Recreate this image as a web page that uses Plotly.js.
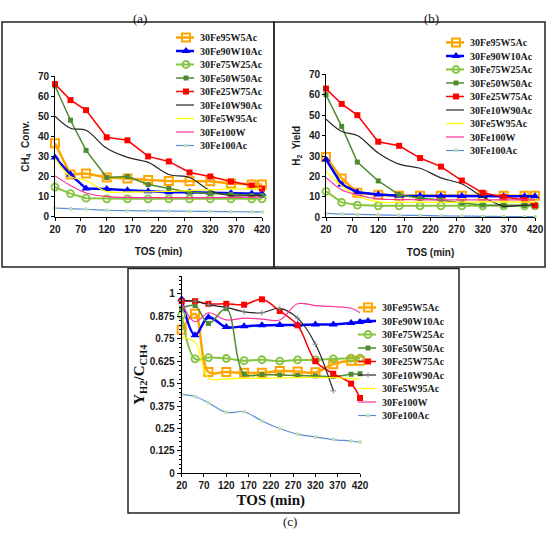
<!DOCTYPE html>
<html><head><meta charset="utf-8">
<script src="https://cdn.plot.ly/plotly-3.0.1.min.js"></script>
<style>html,body{margin:0;padding:0;background:#fff}#chart{width:550px;height:546px}</style>
</head><body><div id="chart"></div>
<script>
// ---------- data ----------
const tos = [20, 50, 80, 120, 160, 200, 240, 280, 320, 360, 400, 420];
const seriesNames = ['30Fe95W5Ac','30Fe90W10Ac','30Fe75W25Ac','30Fe50W50Ac','30Fe25W75Ac','30Fe10W90Ac','30Fe5W95Ac','30Fe100W','30Fe100Ac'];
const xTickVals = [20, 70, 120, 170, 220, 270, 320, 370, 420];
const cTickVals = [0, 0.125, 0.25, 0.375, 0.5, 0.625, 0.75, 0.875, 1];
const cTickText = ['0','0.125','0.25','0.375','0.5','0.625','0.75','0.875','1'];

// (a) CH4 conversion
const convFe95W5Ac  = [36.5, 21, 21.5, 19.5, 19, 18.2, 17.8, 17.6, 17.6, 16.5, 16, 16];
const convFe90W10Ac = [29.5, 21, 14, 13.8, 13.2, 12.6, 12.2, 12.2, 12, 11.8, 11.6, 11.4];
const convFe75W25Ac = [14.7, 11.5, 9.2, 8.9, 8.9, 8.9, 8.9, 8.9, 8.9, 8.9, 8.9, 8.9];
const convFe50W50Ac = [65, 48, 33, 19.5, 20, 16, 14, 12.2, 11.5, 11, 10.5, 10.5];
const convFe25W75Ac = [66, 58, 53, 39.5, 38, 30, 27.5, 22, 20, 17.5, 15.5, 14];
const convFe10W90Ac = [50, 44, 43, 34, 29.5, 27, 21, 19.5, 13, 10.5, 10.5, 10.5];
const convFe5W95Ac  = [29, 20, 18, 12.5, 12.3, 12.4, 12.6, 13, 13.4, 13.8, 14, 14.3];
const convFe100W    = [20.3, 15.5, 11.8, 10, 9.6, 9.5, 9.5, 9.5, 9.5, 9.6, 9.7, 9.8];
const convFe100Ac   = [4.3, 4, 3.7, 3.2, 3, 2.9, 2.8, 2.7, 2.6, 2.5, 2.4, 2.4];

// (b) H2 yield
const yieldFe95W5Ac  = [29.5, 19, 12, 11, 10.5, 10.5, 10.5, 10.5, 10.5, 10.5, 10.5, 10.5];
const yieldFe90W10Ac = [28.3, 16, 12.3, 11.2, 10.6, 10.5, 10.4, 10.4, 10.4, 10.3, 10.3, 10.3];
const yieldFe75W25Ac = [12.7, 7.3, 6, 5.6, 5.6, 5.6, 5.6, 5.6, 5.6, 5.6, 5.6, 5.6];
const yieldFe50W50Ac = [60, 44.5, 27, 17.8, 11, 9.3, 8.5, 7, 6, 5.8, 5.8, 5.8];
const yieldFe25W75Ac = [63, 55.5, 50, 37, 35, 29, 24.8, 18, 12, 10, 8.5, 5.8];
const yieldFe10W90Ac = [48, 42, 40, 31.5, 26, 24, 19.3, 16.3, 10, 5.5, 6, 6];
const yieldFe5W95Ac  = [22.5, 15.5, 10.5, 7.5, 7.3, 7.3, 7.3, 7.4, 7.5, 7.5, 7.5, 7.5];
const yieldFe100W    = [19.5, 13.5, 11, 9, 8.7, 8.6, 8.5, 8.5, 8.5, 8.5, 8.5, 8.5];
const yieldFe100Ac   = [1.9, 1.6, 1.4, 1.2, 1.0, 0.9, 0.7, 0.6, 0.5, 0.4, 0.3, 0.3];

// (c) Y_H2 / C_CH4
const ratioFe95W5Ac  = [0.8, 0.89, 0.565, 0.565, 0.56, 0.56, 0.57, 0.567, 0.563, 0.608, 0.627, 0.627];
const ratioFe90W10Ac = [0.97, 0.77, 0.87, 0.815, 0.82, 0.825, 0.827, 0.827, 0.83, 0.83, 0.838, 0.843];
const ratioFe75W25Ac = [0.882, 0.638, 0.645, 0.64, 0.628, 0.633, 0.625, 0.632, 0.632, 0.638, 0.642, 0.642];
const ratioFe50W50Ac = [0.92, 0.935, 0.835, 0.918, 0.553, 0.55, 0.548, 0.545, 0.543, 0.54, 0.552, 0.555];
const ratioFe25W75Ac = [0.96, 0.96, 0.945, 0.945, 0.94, 0.97, 0.905, 0.825, 0.625, 0.555, 0.5, 0.42];
const ratioFe10W90Ac = [0.962, 0.96, 0.94, 0.925, 0.9, 0.895, 0.92, 0.865, 0.72, 0.46, null, null];
const ratioFe5W95Ac  = [0.76, 0.73, 0.53, 0.527, 0.53, 0.53, 0.532, 0.533, 0.535, 0.533, 0.528, 0.525];
const ratioFe100W    = [0.95, 0.845, 0.895, 0.855, 0.865, 0.86, 0.855, 0.945, 0.935, 0.93, 0.92, 0.895];
const ratioFe100Ac   = [0.44, 0.428, 0.393, 0.34, 0.343, 0.292, 0.25, 0.218, 0.203, 0.188, 0.18, 0.174];

const panelA = [convFe95W5Ac, convFe90W10Ac, convFe75W25Ac, convFe50W50Ac, convFe25W75Ac, convFe10W90Ac, convFe5W95Ac, convFe100W, convFe100Ac];
const panelB = [yieldFe95W5Ac, yieldFe90W10Ac, yieldFe75W25Ac, yieldFe50W50Ac, yieldFe25W75Ac, yieldFe10W90Ac, yieldFe5W95Ac, yieldFe100W, yieldFe100Ac];
const panelC = [ratioFe95W5Ac, ratioFe90W10Ac, ratioFe75W25Ac, ratioFe50W50Ac, ratioFe25W75Ac, ratioFe10W90Ac, ratioFe5W95Ac, ratioFe100W, ratioFe100Ac];

// ---------- styles ----------
const styles = [
  {color:'#FFA500', width:2.5, symbol:'square-open', size:8, mlw:2, mode:'lines+markers', smooth:false},
  {color:'#0000FF', width:2.5, symbol:'triangle-up', size:8, mlw:0, mode:'lines+markers', smooth:false},
  {color:'#86C440', width:2, symbol:'circle-open', size:7, mlw:1.8, mode:'lines+markers', smooth:false},
  {color:'#4E8B30', width:1.5, symbol:'square', size:5, mlw:0, mode:'lines+markers', smooth:false},
  {color:'#FF0000', width:1.5, symbol:'square', size:6, mlw:0, mode:'lines+markers', smooth:false},
  {color:'#262626', width:1.2, symbol:'line-ew-open', size:4, mlw:1, mode:'lines', smooth:true},
  {color:'#FFFF00', width:1.3, symbol:'circle', size:3, mlw:0, mode:'lines', smooth:true},
  {color:'#FF3399', width:1.2, symbol:'circle', size:3, mlw:0, mode:'lines', smooth:true},
  {color:'#5B8ED6', width:1.2, symbol:'circle', size:4, mlw:0, mode:'lines+markers', smooth:true, mcolor:'#C5DBB5'}
];

const traces = [];
function addPanel(data, xa, ya, legendId, allSmooth) {
  data.forEach((ys, i) => {
    const s = styles[i];
    traces.push({
      type:'scatter', x: tos, y: ys, name: seriesNames[i],
      xaxis: xa, yaxis: ya, legend: legendId,
      mode: s.mode, cliponaxis:false, connectgaps:false,
      line: {color: s.color, width: s.width, shape: (allSmooth || s.smooth) ? 'spline' : 'linear', smoothing: 1},
      marker: {symbol: s.symbol, size: s.size, color: s.mcolor || s.color, line: {color: s.mcolor || s.color, width: s.mlw}},
      hoverinfo:'x+y+name'
    });
  });
}
addPanel(panelA, 'x', 'y', 'legend', false);
addPanel(panelB, 'x2', 'y2', 'legend2', false);
addPanel(panelC, 'x3', 'y3', 'legend3', true);
// black series in (c) ends with a small marker
traces[9*2+5].mode = 'lines+markers';
traces[9*2+5].marker = {symbol:'cross-thin-open', size:4, color:'#888', line:{color:'#888', width:1}};

// ---------- layout ----------
const W = 550, H = 546;
const px = v => v / W;
const py = v => 1 - v / H;
const sansBold = {family:'Liberation Sans, Arial, sans-serif', size:10, weight:'bold', color:'#1a1a1a'};
const serifBold = {family:'Liberation Serif, Times New Roman, serif', size:10, weight:'bold', color:'#1a1a1a'};

function xAxis(domain, anchor) {
  return {domain, anchor, range:[20,420], tickmode:'array', tickvals:xTickVals,
    showline:true, linecolor:'#000', linewidth:1, ticks:'outside', ticklen:3, tickcolor:'#000',
    showgrid:false, zeroline:false, tickfont:sansBold, fixedrange:true};
}
function yAxisAB(domain, anchor, titleHtml) {
  return {domain, anchor, range:[0,70], tickmode:'linear', tick0:0, dtick:10,
    showline:true, linecolor:'#000', linewidth:1, ticks:'outside', ticklen:3, tickcolor:'#000',
    showgrid:false, zeroline:false, tickfont:sansBold, fixedrange:true,
    title:{text:titleHtml, font:sansBold, standoff:6}};
}

const layout = {
  width: W, height: H, autosize:false,
  margin:{l:0, r:0, t:0, b:0, autoexpand:false},
  paper_bgcolor:'#fff', plot_bgcolor:'rgba(0,0,0,0)',
  showlegend:true, hovermode:'closest',
  xaxis: Object.assign(xAxis([px(55), px(262)], 'y'), {title:{text:'TOS (min)', font:sansBold, standoff:14}}),
  yaxis: yAxisAB([py(216.7), py(76)], 'x', 'CH<sub>4</sub>  Conv.'),
  xaxis2: Object.assign(xAxis([px(326), px(535)], 'y2'), {title:{text:'TOS (min)', font:sansBold, standoff:14}}),
  yaxis2: yAxisAB([py(217.3), py(74.3)], 'x2', 'H<sub>2</sub>  Yield'),
  xaxis3: Object.assign(xAxis([px(181.7), px(360)], 'y3'), {
    title:{text:'TOS (min)', font:{family:'Liberation Serif, Times New Roman, serif', size:15, weight:'bold', color:'#111'}, standoff:4}}),
  yaxis3: {domain:[py(473.3), py(276)], anchor:'x3', range:[0,1.1], tickmode:'array', tickvals:cTickVals, ticktext:cTickText,
    showline:true, linecolor:'#000', linewidth:1, ticks:'outside', ticklen:4, tickcolor:'#000',
    minor:{tickmode:'linear', tick0:0, dtick:0.025, ticks:'outside', ticklen:2, tickcolor:'#000', showgrid:false},
    showgrid:false, zeroline:false, tickfont:sansBold, fixedrange:true,
    title:{text:'Y<sub>H2</sub>/C<sub>CH4</sub>', font:{family:'Liberation Serif, Times New Roman, serif', size:15, weight:'bold', color:'#111'}, standoff:1}},
  legend: {x:px(178), y:py(23), xanchor:'left', yanchor:'top', bgcolor:'rgba(0,0,0,0)', borderwidth:0, font:serifBold, tracegroupgap:0, itemclick:false, itemdoubleclick:false},
  legend2: {x:px(430), y:py(28), xanchor:'left', yanchor:'top', bgcolor:'rgba(0,0,0,0)', borderwidth:0, font:serifBold, tracegroupgap:0, itemclick:false, itemdoubleclick:false},
  legend3: {x:px(360), y:py(293), xanchor:'left', yanchor:'top', bgcolor:'rgba(0,0,0,0)', borderwidth:0, font:serifBold, tracegroupgap:0, itemclick:false, itemdoubleclick:false},
  shapes: [
    {type:'rect', xref:'paper', yref:'paper', x0:px(2), x1:px(274), y0:py(267), y1:py(22), line:{color:'#222', width:1.5}},
    {type:'rect', xref:'paper', yref:'paper', x0:px(274), x1:px(545), y0:py(267), y1:py(22), line:{color:'#222', width:1.5}},
    {type:'rect', xref:'paper', yref:'paper', x0:px(128), x1:px(459), y0:py(513), y1:py(268.5), line:{color:'#222', width:1.5}}
  ],
  annotations: [
    {text:'(a)', xref:'paper', yref:'paper', x:px(131), y:py(9), showarrow:false, font:{family:'Liberation Serif, Times New Roman, serif', size:13, color:'#111'}},
    {text:'(b)', xref:'paper', yref:'paper', x:px(441), y:py(9), showarrow:false, font:{family:'Liberation Serif, Times New Roman, serif', size:13, color:'#111'}},
    {text:'(c)', xref:'paper', yref:'paper', x:px(290), y:py(531), showarrow:false, font:{family:'Liberation Serif, Times New Roman, serif', size:13, color:'#111'}}
  ]
};

// compact legend rows (reference uses ~13.5px rows and short symbols).
// Items are shifted left by 9px (plus an extra per-legend offset) and their
// symbols moved back so that text sits close to a short symbol.
const legendShift = {legend: 0, legend2: 9, legend3: 0};
function compactLegends() {
  Object.keys(legendShift).forEach(id => {
    const g = document.querySelector('.infolayer g.' + id);
    if (!g) return;
    g.querySelectorAll('[clip-path]').forEach(el => el.removeAttribute('clip-path'));
    const items = g.querySelectorAll('g.traces');
    let y0 = null, x0 = null;
    items.forEach((it, i) => {
      const t = it.getAttribute('transform') || '';
      const m = t.match(/translate\(\s*([-\d.]+)[ ,]+([-\d.]+)\s*\)/);
      if (!m) return;
      if (x0 === null) { x0 = parseFloat(m[1]); y0 = parseFloat(m[2]); }
      it.setAttribute('transform', 'translate(' + (x0 - 9 + legendShift[id]) + ',' + (y0 + i * 13.5) + ')');
      it.querySelectorAll('.legendlines path').forEach(p => {
        p.setAttribute('transform', 'translate(13,0) scale(0.6,1)');
      });
      it.querySelectorAll('.legendpoints path').forEach(p => {
        p.setAttribute('transform', 'translate(26,0)');
      });
    });
    const bg = g.querySelector('rect.bg');
    if (bg) bg.setAttribute('height', String(items.length * 13.5 + 6));
  });
}

const gd = document.getElementById('chart');
Plotly.newPlot(gd, traces, layout, {displayModeBar:false, staticPlot:false}).then(() => {
  compactLegends();
  gd.on('plotly_afterplot', compactLegends);
  setTimeout(compactLegends, 50);
});
</script>
</body></html>
